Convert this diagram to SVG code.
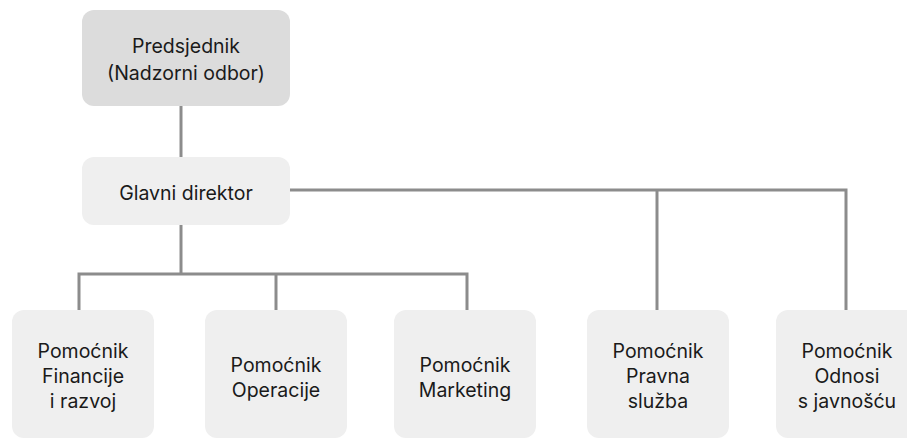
<svg xmlns="http://www.w3.org/2000/svg" width="907" height="440" viewBox="0 0 907 440">
  <style>
    .box { fill: #efefef; }
    .top { fill: #dcdcdc; }
    .lbl { font-family: Inter, "Noto Sans", sans-serif; font-size: 19.5px; fill: #1a1a1a; text-anchor: middle; }
    .wire { fill: none; stroke: #8c8c8c; stroke-width: 3; }
  </style>
  <rect width="907" height="440" fill="#ffffff"/>

  <g id="connectors">
    <path class="wire" d="M181 106 V157"/>
    <path class="wire" d="M290 190 H846 V310"/>
    <path class="wire" d="M657 190 V310"/>
    <path class="wire" d="M181 225 V274"/>
    <path class="wire" d="M79 310 V274 H467 V310"/>
    <path class="wire" d="M276 274 V310"/>
  </g>

  <g id="predsjednik">
    <rect class="top" x="82" y="10" width="208" height="96" rx="12"/>
    <text class="lbl" x="186" y="53">Predsjednik</text>
    <text class="lbl" x="186" y="80">(Nadzorni odbor)</text>
  </g>

  <g id="glavni-direktor">
    <rect class="box" x="82" y="157" width="208" height="68" rx="12"/>
    <text class="lbl" x="186" y="200">Glavni direktor</text>
  </g>

  <g id="financije">
    <rect class="box" x="12" y="310" width="142" height="128" rx="12"/>
    <text class="lbl" x="83" y="358">Pomoćnik</text>
    <text class="lbl" x="83" y="383">Financije</text>
    <text class="lbl" x="83" y="408">i razvoj</text>
  </g>

  <g id="operacije">
    <rect class="box" x="205" y="310" width="142" height="128" rx="12"/>
    <text class="lbl" x="276" y="372">Pomoćnik</text>
    <text class="lbl" x="276" y="397">Operacije</text>
  </g>

  <g id="marketing">
    <rect class="box" x="394" y="310" width="142" height="128" rx="12"/>
    <text class="lbl" x="465" y="372">Pomoćnik</text>
    <text class="lbl" x="465" y="397">Marketing</text>
  </g>

  <g id="pravna-sluzba">
    <rect class="box" x="587" y="310" width="142" height="128" rx="12"/>
    <text class="lbl" x="658" y="358">Pomoćnik</text>
    <text class="lbl" x="658" y="383">Pravna</text>
    <text class="lbl" x="658" y="408">služba</text>
  </g>

  <g id="odnosi-s-javnoscu">
    <rect class="box" x="776" y="310" width="142" height="128" rx="12"/>
    <text class="lbl" x="847" y="358">Pomoćnik</text>
    <text class="lbl" x="847" y="383">Odnosi</text>
    <text class="lbl" x="847" y="408">s javnošću</text>
  </g>
</svg>
